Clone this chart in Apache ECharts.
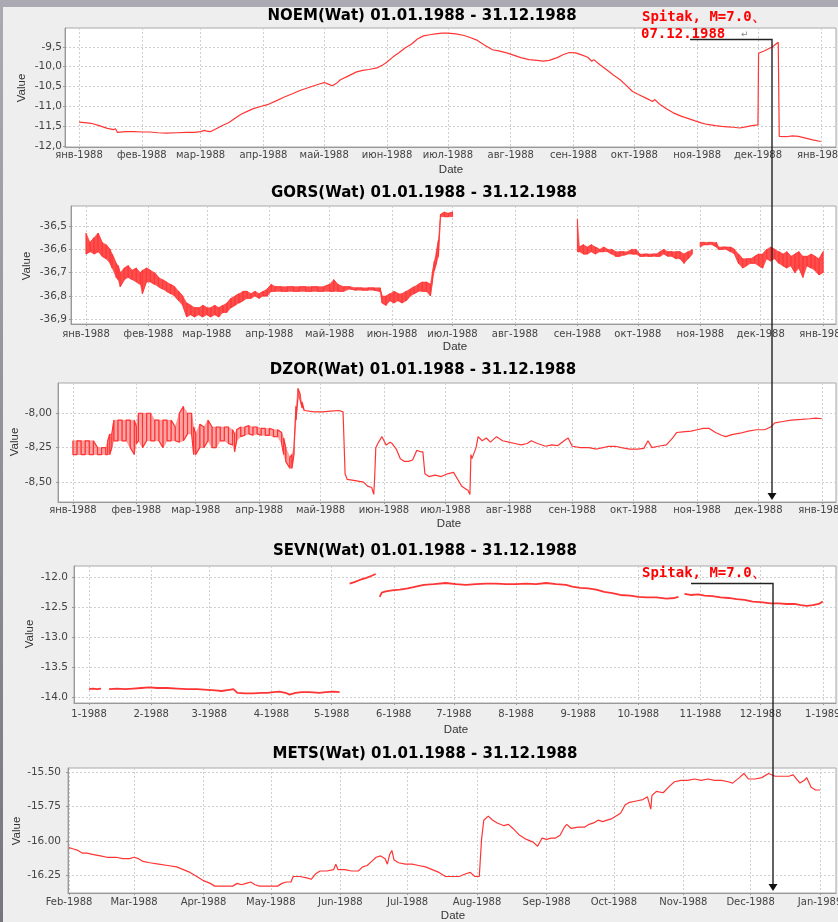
<!DOCTYPE html>
<html><head><meta charset="utf-8">
<script src="https://cdn.jsdelivr.net/npm/echarts@6/dist/echarts.min.js"></script>
<style>html,body{margin:0;padding:0;background:#eeeeee;}#c{width:838px;height:922px;}</style>
</head><body><div id="c"></div>
<script>
// ---------- axis ticks / labels ----------
const monthDays = [0,31,60,91,121,152,182,213,244,274,305,335,366];
const ruMonthLabels = ['янв-1988','фев-1988','мар-1988','апр-1988','май-1988','июн-1988','июл-1988','авг-1988','сен-1988','окт-1988','ноя-1988','дек-1988','янв-1989'];
const numMonthLabels = ['1-1988','2-1988','3-1988','4-1988','5-1988','6-1988','7-1988','8-1988','9-1988','10-1988','11-1988','12-1988','1-1989'];
const metsMonthDays = [31,60,91,121,152,182,213,244,274,305,335,366];
const enMonthLabels = ['Feb-1988','Mar-1988','Apr-1988','May-1988','Jun-1988','Jul-1988','Aug-1988','Sep-1988','Oct-1988','Nov-1988','Dec-1988','Jan-1989'];
const noemYTicks = [-12,-11.5,-11,-10.5,-10,-9.5];
const gorsYTicks = [-36.9,-36.8,-36.7,-36.6,-36.5];
const dzorYTicks = [-8.5,-8.25,-8.0];
const sevnYTicks = [-14,-13.5,-13,-12.5,-12];
const metsYTicks = [-16.25,-16,-15.75,-15.5];
const titles = ['NOEM(Wat) 01.01.1988 - 31.12.1988','GORS(Wat) 01.01.1988 - 31.12.1988','DZOR(Wat) 01.01.1988 - 31.12.1988','SEVN(Wat) 01.01.1988 - 31.12.1988','METS(Wat) 01.01.1988 - 31.12.1988'];
const quakeLabel1 = 'Spitak, M=7.0、';
const quakeLabel2 = '07.12.1988';

// ---------- data (day of 1988, value) ----------
const noemDay = [0,4,6,10,14,17,18,19,23,27,
 31,35,39,43,48,53,57,60,62,63,
 65,68,71,74,77,80,83,86,90,93,
 97,101,105,109,113,116,119,121,123,125,
 127,129,133,137,140,143,147,150,151,151.5,
 152,155,158,161,164,167,170,173,176,179,
 182,186,190,193,196,200,204,207,211,214,
 218,222,226,229,232,236,239,242,245,248,
 251,253,254,257,261,264,267,270,273,276,
 280,283,284,287,290,293,297,300,304,307,
 310,314,317,320,323,326,329,332,335,335.3,
 338,342,345,345.5,349,352,355,359,362,366];
const noemVal = [-11.40,-11.42,-11.43,-11.49,-11.56,-11.59,-11.57,-11.66,-11.64,-11.64,
 -11.65,-11.65,-11.67,-11.68,-11.67,-11.66,-11.66,-11.64,-11.61,-11.63,
 -11.64,-11.56,-11.48,-11.41,-11.30,-11.20,-11.13,-11.06,-11.00,-10.96,
 -10.87,-10.77,-10.69,-10.60,-10.53,-10.48,-10.43,-10.40,-10.44,-10.48,
 -10.42,-10.33,-10.23,-10.13,-10.09,-10.07,-10.03,-9.95,-9.92,-9.97,
 -9.88,-9.75,-9.64,-9.52,-9.43,-9.30,-9.22,-9.19,-9.17,-9.15,
 -9.15,-9.17,-9.21,-9.26,-9.32,-9.45,-9.57,-9.60,-9.65,-9.70,
 -9.77,-9.82,-9.84,-9.86,-9.84,-9.77,-9.69,-9.64,-9.65,-9.70,
 -9.76,-9.86,-9.82,-9.95,-10.10,-10.22,-10.33,-10.47,-10.62,-10.70,
 -10.80,-10.88,-10.83,-10.97,-11.07,-11.16,-11.25,-11.30,-11.37,-11.42,
 -11.46,-11.49,-11.51,-11.52,-11.53,-11.55,-11.52,-11.49,-11.47,-9.66,
 -9.60,-9.50,-9.38,-11.76,-11.77,-11.75,-11.76,-11.81,-11.85,-11.89];

const gorsDay = [0,2,4,6,8,10,12,13,15,16,
 17,19,21,23,25,27,28,30,32,34,
 36,38,40,42,44,46,48,50,52,54,
 56,58,60,62,64,66,68,70,72,74,
 76,78,80,82,84,86,88,90,92,94,
 97,100,103,106,109,112,115,118,121,123,
 125,128,131,134,137,140,143,146,147,149,
 151,153,155,157,159,161,163,165,167,169,
 171,172,173,174,175,176,178,180,182,213,
 244,245,247,249,251,253,255,257,259,261,
 263,265,267,269,271,273,275,277,279,281,
 283,285,287,289,291,293,295,297,299,301,
 303,305,307,309,311,313,314,316,318,320,
 322,324,326,328,330,332,334,336,338,340,
 342,344,346,348,350,352,354,356,358,360,
 362,364,366];
const gorsHi = [-36.53,-36.57,-36.55,-36.53,-36.57,-36.58,-36.60,-36.62,-36.66,-36.67,
 -36.70,-36.68,-36.67,-36.69,-36.68,-36.70,-36.69,-36.68,-36.69,-36.70,
 -36.72,-36.73,-36.74,-36.75,-36.76,-36.78,-36.80,-36.83,-36.84,-36.85,
 -36.85,-36.84,-36.85,-36.85,-36.84,-36.85,-36.84,-36.83,-36.81,-36.80,
 -36.79,-36.78,-36.78,-36.79,-36.78,-36.79,-36.78,-36.77,-36.75,-36.76,
 -36.76,-36.76,-36.76,-36.76,-36.76,-36.76,-36.76,-36.76,-36.75,-36.73,
 -36.75,-36.76,-36.76,-36.765,-36.765,-36.765,-36.765,-36.765,-36.80,-36.80,
 -36.79,-36.78,-36.79,-36.79,-36.78,-36.77,-36.76,-36.75,-36.74,-36.74,
 -36.75,-36.70,-36.65,-36.61,-36.56,-36.45,-36.44,-36.445,-36.44,null,
 -36.47,-36.59,-36.58,-36.59,-36.58,-36.59,-36.60,-36.59,-36.60,-36.60,
 -36.61,-36.61,-36.61,-36.61,-36.60,-36.60,-36.62,-36.62,-36.62,-36.62,
 -36.62,-36.61,-36.60,-36.61,-36.61,-36.61,-36.61,-36.62,-36.61,-36.60,
 null,-36.57,-36.57,-36.57,-36.57,-36.57,-36.59,-36.59,-36.59,-36.59,
 -36.60,-36.62,-36.64,-36.64,-36.64,-36.63,-36.62,-36.62,-36.60,-36.59,
 -36.60,-36.61,-36.62,-36.61,-36.63,-36.62,-36.61,-36.63,-36.63,-36.62,
 -36.63,-36.64,-36.61];
const gorsLo = [-36.62,-36.61,-36.62,-36.61,-36.63,-36.64,-36.66,-36.68,-36.72,-36.73,
 -36.76,-36.73,-36.72,-36.73,-36.74,-36.75,-36.79,-36.74,-36.74,-36.75,
 -36.76,-36.77,-36.78,-36.79,-36.80,-36.82,-36.84,-36.89,-36.88,-36.89,
 -36.88,-36.89,-36.88,-36.89,-36.88,-36.89,-36.87,-36.87,-36.85,-36.84,
 -36.83,-36.82,-36.81,-36.81,-36.80,-36.81,-36.80,-36.80,-36.78,-36.78,
 -36.78,-36.78,-36.78,-36.78,-36.78,-36.78,-36.78,-36.78,-36.78,-36.78,
 -36.78,-36.78,-36.77,-36.775,-36.775,-36.775,-36.775,-36.78,-36.83,-36.84,
 -36.82,-36.83,-36.82,-36.83,-36.82,-36.80,-36.79,-36.78,-36.78,-36.78,
 -36.80,-36.74,-36.69,-36.66,-36.63,-36.46,-36.46,-36.46,-36.46,null,
 -36.61,-36.61,-36.62,-36.62,-36.61,-36.62,-36.61,-36.61,-36.61,-36.62,
 -36.63,-36.63,-36.625,-36.62,-36.62,-36.62,-36.63,-36.63,-36.63,-36.63,
 -36.63,-36.63,-36.62,-36.63,-36.63,-36.64,-36.64,-36.66,-36.64,-36.62,
 null,-36.59,-36.58,-36.58,-36.58,-36.59,-36.60,-36.60,-36.60,-36.61,
 -36.62,-36.66,-36.68,-36.67,-36.66,-36.66,-36.67,-36.68,-36.64,-36.65,
 -36.64,-36.66,-36.67,-36.68,-36.67,-36.70,-36.68,-36.72,-36.67,-36.68,
 -36.69,-36.71,-36.70];

const dzorBandDay = [0,2,4,6,8,10,12,14,16,17,
 18,19,20,22,24,26,28,30,31,32,
 34,36,38,40,42,44,46,48,50,52,
 54,56,58,59,60,62,64,66,68,70,
 72,74,76,78,79,80,82,84,86,88,
 90,92,94,96,98,100,102,103,104,106,
 107,108,109,110,111,112,113];
const dzorBandHi = [-8.20,-8.20,-8.20,-8.20,-8.20,-8.20,-8.25,-8.25,-8.25,-8.20,
 -8.15,-8.15,-8.05,-8.05,-8.05,-8.05,-8.05,-8.05,-8.10,-8.00,
 -8.00,-8.00,-8.00,-8.05,-8.05,-8.05,-8.05,-8.05,-8.10,-8.00,
 -7.95,-8.00,-8.00,-8.10,-8.15,-8.08,-8.10,-8.05,-8.10,-8.10,
 -8.10,-8.10,-8.10,-8.12,-8.15,-8.12,-8.10,-8.10,-8.09,-8.10,
 -8.10,-8.11,-8.11,-8.11,-8.12,-8.12,-8.14,-8.18,-8.25,-8.32,
 -8.30,-8.25,-7.95,-7.82,-7.86,-7.92,-7.98];
const dzorBandLo = [-8.30,-8.30,-8.30,-8.30,-8.30,-8.30,-8.30,-8.30,-8.30,-8.30,
 -8.30,-8.25,-8.20,-8.20,-8.20,-8.20,-8.25,-8.30,-8.22,-8.20,
 -8.25,-8.20,-8.20,-8.20,-8.20,-8.25,-8.20,-8.20,-8.20,-8.21,
 -8.20,-8.15,-8.15,-8.30,-8.30,-8.25,-8.25,-8.20,-8.25,-8.25,
 -8.20,-8.20,-8.22,-8.23,-8.28,-8.20,-8.17,-8.16,-8.15,-8.16,
 -8.15,-8.16,-8.16,-8.16,-8.17,-8.17,-8.22,-8.30,-8.35,-8.40,
 -8.40,-8.30,-8.05,-7.88,-7.90,-7.96,-7.98];
const dzorDay = [113,118,122,126,130,132,133,134,138,142,
 144,146,147,147.5,148,149,151,152,153,155,
 156,158,160,162,164,166,168,170,171,172,
 174,177,180,183,186,188,190,192,193,194,
 194.5,195,197,198,200,202,204,207,210,213,
 216,219,222,224,227,231,234,237,240,242,
 244,248,252,256,259,262,265,268,272,276,
 279,281,283,286,290,293,295,298,302,305,
 308,311,314,317,319,322,326,330,334,338,
 341,343,347,351,356,360,363,366];
const dzorVal = [-7.98,-7.99,-7.99,-7.985,-7.98,-7.99,-8.44,-8.48,-8.49,-8.50,
 -8.53,-8.54,-8.59,-8.45,-8.25,-8.22,-8.17,-8.20,-8.23,-8.21,
 -8.22,-8.26,-8.33,-8.35,-8.35,-8.34,-8.27,-8.28,-8.28,-8.44,
 -8.46,-8.45,-8.46,-8.44,-8.43,-8.48,-8.53,-8.55,-8.56,-8.59,
 -8.30,-8.33,-8.25,-8.17,-8.20,-8.18,-8.21,-8.17,-8.20,-8.21,
 -8.22,-8.23,-8.22,-8.20,-8.22,-8.24,-8.23,-8.235,-8.20,-8.18,
 -8.24,-8.25,-8.25,-8.26,-8.25,-8.24,-8.24,-8.25,-8.26,-8.26,
 -8.255,-8.20,-8.25,-8.24,-8.23,-8.18,-8.14,-8.135,-8.13,-8.12,
 -8.11,-8.11,-8.14,-8.16,-8.17,-8.155,-8.145,-8.13,-8.12,-8.12,
 -8.10,-8.07,-8.06,-8.05,-8.045,-8.04,-8.035,-8.04];

const sevnDay = [0,2,4,6,8,10,14,18,22,26,
 30,34,39,44,49,54,59,63,66,70,
 72,74,78,82,86,89,92,95,98,100,
 103,106,110,115,118,122,125,127,130,132,
 135,138,141,143,144,145,146,148,152,155,
 159,163,167,172,178,183,188,193,198,203,
 208,213,218,223,228,233,238,241,245,249,
 253,257,261,265,270,274,278,283,288,292,
 294,296,297,300,304,307,311,315,319,323,
 327,331,335,340,344,348,352,355,358,361,
 364,366];
const sevnVal = [-13.87,-13.86,-13.87,-13.86,null,-13.87,-13.86,-13.87,-13.86,-13.85,
 -13.84,-13.85,-13.85,-13.86,-13.87,-13.87,-13.88,-13.89,-13.90,-13.88,
 -13.87,-13.93,-13.94,-13.94,-13.93,-13.93,-13.92,-13.91,-13.93,-13.96,
 -13.93,-13.92,-13.92,-13.93,-13.92,-13.91,-13.92,null,-12.11,-12.09,
 -12.05,-12.02,-11.98,-11.95,null,-12.33,-12.26,-12.24,-12.22,-12.21,
 -12.19,-12.16,-12.13,-12.12,-12.10,-12.12,-12.13,-12.12,-12.11,-12.11,
 -12.12,-12.12,-12.11,-12.12,-12.10,-12.12,-12.13,-12.16,-12.18,-12.19,
 -12.21,-12.25,-12.27,-12.30,-12.31,-12.33,-12.34,-12.34,-12.36,-12.35,
 -12.33,null,-12.28,-12.30,-12.29,-12.31,-12.32,-12.34,-12.35,-12.37,
 -12.38,-12.41,-12.42,-12.44,-12.44,-12.45,-12.45,-12.47,-12.48,-12.47,
 -12.45,-12.41];

const metsDay = [31,33,35,37,39,42,45,48,52,55,
 58,60,62,64,67,71,75,79,82,85,
 88,91,94,96,100,104,106,108,110,112,
 114,116,120,124,126,128,130,131,134,137,
 139,141,143,146,149,150,151,154,157,160,
 162,164,166,168,170,172,173,174,175,176,
 178,181,184,187,190,193,196,199,202,205,
 208,210,212,214,215,216,218,220,222,225,
 227,229,232,235,238,240,242,244,246,248,
 250,252,253,255,258,261,263,265,267,269,
 271,273,275,277,279,281,284,287,289,290.5,
 291,293,296,299,301,304,307,310,313,316,
 319,322,325,327,330,332,334,337,340,343,
 346,349,352,354,356,357,359,360,362,364,
 366];
const metsVal = [-16.05,-16.06,-16.07,-16.09,-16.09,-16.10,-16.11,-16.12,-16.12,-16.13,
 -16.13,-16.12,-16.13,-16.15,-16.16,-16.17,-16.18,-16.19,-16.21,-16.23,
 -16.26,-16.29,-16.31,-16.33,-16.33,-16.33,-16.31,-16.32,-16.31,-16.30,
 -16.32,-16.33,-16.33,-16.33,-16.31,-16.30,-16.30,-16.26,-16.26,-16.27,
 -16.28,-16.24,-16.22,-16.22,-16.21,-16.17,-16.21,-16.21,-16.22,-16.22,
 -16.19,-16.18,-16.15,-16.12,-16.11,-16.13,-16.17,-16.10,-16.07,-16.14,
 -16.16,-16.17,-16.17,-16.18,-16.19,-16.21,-16.23,-16.26,-16.26,-16.26,
 -16.24,-16.23,-16.26,-16.26,-15.99,-15.85,-15.82,-15.85,-15.87,-15.89,
 -15.88,-15.91,-15.96,-15.99,-16.01,-16.04,-15.98,-15.99,-15.98,-15.98,
 -15.96,-15.90,-15.88,-15.91,-15.90,-15.90,-15.88,-15.87,-15.85,-15.86,
 -15.85,-15.84,-15.82,-15.80,-15.74,-15.72,-15.71,-15.70,-15.68,-15.77,
 -15.67,-15.64,-15.65,-15.60,-15.57,-15.56,-15.56,-15.55,-15.56,-15.55,
 -15.56,-15.56,-15.57,-15.58,-15.54,-15.51,-15.55,-15.55,-15.54,-15.51,
 -15.53,-15.53,-15.53,-15.52,-15.56,-15.58,-15.56,-15.54,-15.61,-15.63,
 -15.63];

// ---------- layout ----------
const RED = '#ff3535';
const panels = [
 {left:65, top:28, bottom:147, xmin:-6.9, xmax:373.5, ymin:-12.03, ymax:-9.02, yt:noemYTicks, yfmt:v=>v.toFixed(1).replace('.',','), xd:monthDays, xl:ruMonthLabels, xm:3, ym:3, titleX:422, titleY:16, valX:22, valY:88, dateX:451, dateY:170},
 {left:71, top:206, bottom:324, xmin:-7.45, xmax:372.4, ymin:-36.92, ymax:-36.414, yt:gorsYTicks, yfmt:v=>v.toFixed(1).replace('.',','), xd:monthDays, xl:ruMonthLabels, xm:5, ym:4, titleX:424, titleY:193, valX:27, valY:266, dateX:455, dateY:347},
 {left:58, top:383, bottom:502, xmin:-7.3, xmax:372.9, ymin:-8.645, ymax:-7.78, yt:dzorYTicks, yfmt:v=>v.toFixed(2).replace('.',','), xd:monthDays, xl:ruMonthLabels, xm:3, ym:6, titleX:423, titleY:370, valX:15, valY:442, dateX:449, dateY:524},
 {left:74, top:566, bottom:703, xmin:-7.5, xmax:372.6, ymin:-14.1, ymax:-11.817, yt:sevnYTicks, yfmt:v=>v.toFixed(1), xd:monthDays, xl:numMonthLabels, xm:6, ym:6, titleX:425, titleY:551, valX:30, valY:634, dateX:456, dateY:730},
 {left:68, top:768, bottom:893, xmin:30.55, xmax:373.1, ymin:-16.38, ymax:-15.47, yt:metsYTicks, yfmt:v=>v.toFixed(2), xd:metsMonthDays, xl:enMonthLabels, xm:4, ym:7, titleX:425, titleY:754, valX:17, valY:831, dateX:453, dateY:916}
];

function zigzag(days, hi, lo){
 const out=[];
 days.forEach((d,i)=>{
  if(hi[i]==null){ out.push([d,'-']); return; }
  if(i%2===0){ out.push([d,hi[i]]); out.push([d,lo[i]]); }
  else { out.push([d,lo[i]]); out.push([d,hi[i]]); }
 });
 return out;
}
function pairs(days, vals){ return days.map((d,i)=>[d, vals[i]==null?'-':vals[i]]); }

// band between lower and upper envelope, one quad per pair of readings, placed by the axes
function bandSeries(gi, days, hi, lo, opacity){
 return {type:'custom', xAxisIndex:gi, yAxisIndex:gi, silent:true, animation:false, clip:true,
  encode:{x:0, y:[1,2]},
  data:days.map((d,i)=>[d, hi[i]==null?'-':hi[i], lo[i]==null?'-':lo[i]]),
  renderItem:function(params, api){
   const i = params.dataIndex;
   if(i+1 >= days.length || hi[i]==null || hi[i+1]==null) return null;
   const a = api.coord([days[i], hi[i]]), b = api.coord([days[i+1], hi[i+1]]);
   const c = api.coord([days[i+1], lo[i+1]]), e = api.coord([days[i], lo[i]]);
   return {type:'polygon', shape:{points:[a,b,c,e]}, style:{fill:RED, opacity:opacity, stroke:RED, lineWidth:0.6}};
  }};
}

const grids=[], xAxes=[], yAxes=[];
panels.forEach((p,i)=>{
 grids.push({left:p.left, top:p.top, width:836-p.left, height:p.bottom-p.top, show:true, backgroundColor:'#ffffff', borderColor:'#a8a8a8', borderWidth:1, containLabel:false, outerBoundsMode:'none'});
 xAxes.push({type:'value', gridIndex:i, min:p.xmin, max:p.xmax,
  axisLine:{show:true, onZero:false, lineStyle:{color:'#999'}},
  axisTick:{show:true, length:2, lineStyle:{color:'#999'}, customValues:p.xd},
  axisLabel:{customValues:p.xd, margin:p.xm, fontSize:10, color:'#444', fontFamily:'DejaVu Sans',
   formatter:v=>{const k=p.xd.findIndex(d=>Math.abs(d-v)<0.01); return k<0?'':p.xl[k];}},
  splitLine:{show:true, lineStyle:{color:'#cfcfcf', type:[2,2], width:1}}});
 yAxes.push({type:'value', gridIndex:i, min:p.ymin, max:p.ymax,
  axisLine:{show:true, onZero:false, lineStyle:{color:'#999'}},
  axisTick:{show:true, length:2, lineStyle:{color:'#999'}, customValues:p.yt},
  axisLabel:{customValues:p.yt, margin:p.ym, fontSize:10.5, color:'#444', fontFamily:'DejaVu Sans', formatter:v=>p.yfmt(v)},
  splitLine:{show:true, lineStyle:{color:'#cfcfcf', type:[2,2], width:1}}});
});

const lineBase = {type:'line', showSymbol:false, symbol:'none', animation:false, silent:true};
function L(o){ return Object.assign({}, lineBase, o); }
const series = [
 L({name:'NOEM', xAxisIndex:0, yAxisIndex:0, data:pairs(noemDay,noemVal), lineStyle:{color:RED, width:1.2}}),
 bandSeries(1, gorsDay, gorsHi, gorsLo, 0.88),
 L({name:'GORS zz', xAxisIndex:1, yAxisIndex:1, data:zigzag(gorsDay,gorsHi,gorsLo), lineStyle:{color:RED, width:0.8}}),
 bandSeries(2, dzorBandDay, dzorBandHi, dzorBandLo, 0.45),
 L({name:'DZOR zz', xAxisIndex:2, yAxisIndex:2, data:zigzag(dzorBandDay,dzorBandHi,dzorBandLo), lineStyle:{color:RED, width:1.2}}),
 L({name:'DZOR', xAxisIndex:2, yAxisIndex:2, data:pairs(dzorDay,dzorVal), lineStyle:{color:RED, width:1.2}}),
 L({name:'SEVN', xAxisIndex:3, yAxisIndex:3, data:pairs(sevnDay,sevnVal), lineStyle:{color:RED, width:1.8}}),
 L({name:'METS', xAxisIndex:4, yAxisIndex:4, data:pairs(metsDay,metsVal), lineStyle:{color:RED, width:1.2}})
];

function txt(x,y,text,font,fill,align,rot){
 return {type:'text', x:x, y:y, rotation:rot||0, z:100,
  style:{x:0, y:0, text:text, font:font, fill:fill, textAlign:align||'center', align:align||'center', textVerticalAlign:'middle', verticalAlign:'middle'}};
}
const graphics = [
 {type:'rect', z:-10, shape:{x:0,y:0,width:838,height:7}, style:{fill:'#aba9b1'}},
 {type:'rect', z:-10, shape:{x:0,y:0,width:3,height:922}, style:{fill:new echarts.graphic.LinearGradient(0,0,0,1,[{offset:0,color:'#aba9b1'},{offset:1,color:'#77757d'}])}}
];
panels.forEach((p,i)=>{
 graphics.push(txt(p.titleX, p.titleY, titles[i], 'bold 15px "DejaVu Sans"', '#000'));
 graphics.push(txt(p.valX, p.valY, 'Value', '11.5px "Liberation Sans"', '#333', 'center', Math.PI/2));
 graphics.push(txt(p.dateX, p.dateY, 'Date', '11.5px "Liberation Sans"', '#333'));
});
// annotations
graphics.push(txt(642, 17, quakeLabel1, 'bold 14px "DejaVu Sans Mono"', '#ff0000', 'left'));
graphics.push(txt(641, 34, quakeLabel2, 'bold 14px "DejaVu Sans Mono"', '#ff0000', 'left'));
graphics.push(txt(741, 35, '↵', '9px "DejaVu Sans"', '#888', 'left'));
graphics.push(txt(642, 573, quakeLabel1, 'bold 14px "DejaVu Sans Mono"', '#ff0000', 'left'));
graphics.push({type:'polyline', z:100, shape:{points:[[690,39.5],[772,39.5],[772,494]]}, style:{stroke:'#222', lineWidth:1.4, fill:null}});
graphics.push({type:'polygon', z:100, shape:{points:[[767.5,493],[776.5,493],[772,500]]}, style:{fill:'#111'}});
graphics.push({type:'polyline', z:100, shape:{points:[[691,583.5],[773,583.5],[773,885]]}, style:{stroke:'#222', lineWidth:1.4, fill:null}});
graphics.push({type:'polygon', z:100, shape:{points:[[768.5,884],[777.5,884],[773,891]]}, style:{fill:'#111'}});

const chart = echarts.init(document.getElementById('c'), null, {renderer:'canvas'});
chart.setOption({
 backgroundColor:'#eeeeee',
 animation:false,
 grid:grids, xAxis:xAxes, yAxis:yAxes, series:series,
 graphic:{elements:graphics}
});
</script></body></html>
